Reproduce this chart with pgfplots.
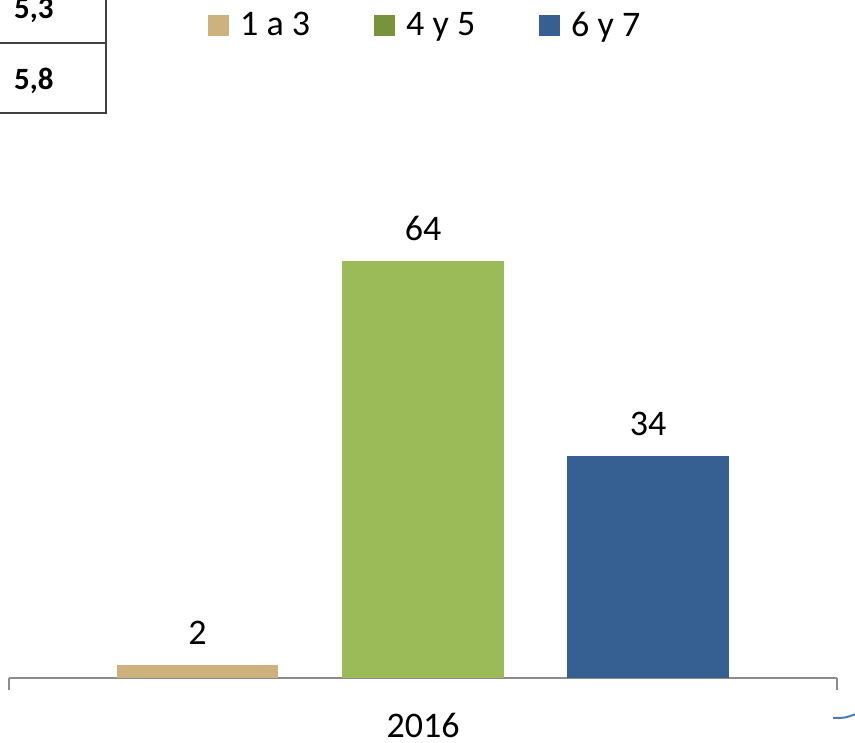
\documentclass[border=0pt]{standalone}
\usepackage{pgfplots}
\pgfplotsset{compat=1.18}
\usepackage{fontspec}
\setmainfont{Carlito}
\definecolor{tanc}{HTML}{CDB27D}
\definecolor{greenbar}{HTML}{9BBB59}
\definecolor{greenleg}{HTML}{77933C}
\definecolor{bluec}{HTML}{376092}
\definecolor{axisgray}{HTML}{8C8C8C}
\definecolor{tableline}{HTML}{404040}
\begin{document}
\begin{tikzpicture}[x=1pt,y=1pt]
\useasboundingbox (0,0) rectangle (855,743);
% table fragment
\draw[tableline, line width=2pt] (0,700) -- (107,700);
\draw[tableline, line width=2pt] (0,630) -- (107,630);
\draw[tableline, line width=2pt] (106,743) -- (106,630);
\node[anchor=base west, inner sep=0pt, font=\fontsize{31}{36}\selectfont\bfseries] at (14,724) {5,3};
\node[anchor=base west, inner sep=0pt, font=\fontsize{31}{36}\selectfont\bfseries] at (14,653) {5,8};
\begin{axis}[
  at={(9pt,65pt)}, anchor=south west,
  scale only axis, width=828pt, height=652pt,
  xmin=-1.84, xmax=1.84, ymin=0, ymax=100,
  axis x line*=bottom, axis y line=none,
  x axis line style={draw=axisgray, line width=2pt},
  xtick={0}, xticklabels={2016},
  xtick style={draw=none},
  major tick length=0pt,
  xticklabel style={inner sep=0pt, yshift=-35pt, font=\fontsize{36}{43}\selectfont},
  extra x ticks={-1.84,1.84}, extra x tick labels={},
  extra x tick style={xtick style={draw=axisgray, line width=2pt}, major tick length=12pt, tick align=outside},
  ybar, bar width=0.7156,
  /pgf/number format/assume math mode=true,
  nodes near coords,
  every node near coord/.append style={inner sep=0pt, anchor=south, yshift=20pt, font=\fontsize{36}{43}\selectfont, text=black},
  legend columns=3,
  legend style={draw=none, fill=none, inner sep=0pt, at={(0.2403,1.0015)}, anchor=west,
    font=\fontsize{36}{43}\selectfont,
    nodes={inner sep=0pt},
    /tikz/every odd column/.append style={column sep=11pt},
    /tikz/every even column/.append style={column sep=64pt}},
  legend cell align=left,
]
\addplot[fill=tanc, draw=none, bar shift=0pt,
  legend image code/.code={\fill[tanc] (0pt,-10.5pt) rectangle (21pt,10.5pt);}]
  coordinates {(-1.002,2)};
\addplot[fill=greenbar, draw=none, bar shift=0pt,
  legend image code/.code={\fill[greenleg] (0pt,-10.5pt) rectangle (21pt,10.5pt);}]
  coordinates {(0,64)};
\addplot[fill=bluec, draw=none, bar shift=0pt,
  legend image code/.code={\fill[bluec] (0pt,-10.5pt) rectangle (21pt,10.5pt);}]
  coordinates {(1,34)};
\legend{1 a 3, 4 y 5, 6 y 7}
\end{axis}
\draw[color={rgb,255:red,74;green,126;blue,187}, line width=2pt] (833,25) .. controls (845,25) .. (856,29);
\end{tikzpicture}
\end{document}
